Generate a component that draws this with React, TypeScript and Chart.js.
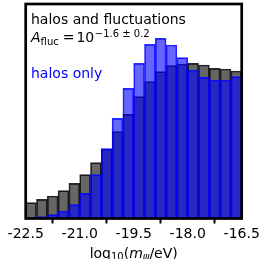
import React, { useEffect, useRef } from "react";
import { Chart, registerables } from "chart.js";

Chart.register(...registerables);

// Bin centres of log10(m_psi/eV), 20 bins of width 0.3 from -22.5 to -16.5
const binCenters = [
  -22.35, -22.05, -21.75, -21.45, -21.15, -20.85, -20.55, -20.25, -19.95, -19.65,
  -19.35, -19.05, -18.75, -18.45, -18.15, -17.85, -17.55, -17.25, -16.95, -16.65,
];
const halosAndFluctuations = [
  15.8, 19.2, 22.5, 27.8, 35.2, 43.8, 55.8, 69.5, 86.8, 104.2,
  121.8, 136.8, 146.8, 152.8, 154.5, 155.2, 153.5, 150.2, 149.5, 147.5,
];
const halosOnly = [
  1.0, 1.8, 3.8, 7.5, 13.8, 25.2, 43.8, 69.8, 100.2, 130.2,
  155.2, 174.2, 180.2, 173.5, 160.8, 148.5, 141.2, 138.5, 138.5, 141.8,
];
const xTicks = [-22.5, -21.0, -19.5, -18.0, -16.5];
const xMin = -22.5;
const xMax = -16.5;
const yMax = 214.5;

const FONT = "'DejaVu Sans', sans-serif";

const textPlugin = {
  id: "textPlugin",
  afterDraw(chart: any) {
    const ctx = chart.ctx as CanvasRenderingContext2D;
    const a = chart.chartArea;
    ctx.save();
    // frame
    ctx.strokeStyle = "#000";
    ctx.lineWidth = 2.7;
    ctx.strokeRect(a.left, a.top, a.right - a.left, a.bottom - a.top);

    ctx.textBaseline = "alphabetic";
    ctx.textAlign = "left";
    // legend-like annotations
    ctx.fillStyle = "#000";
    ctx.font = `14px ${FONT}`;
    ctx.fillText("halos and fluctuations", 31, 24.3);

    let x = 31;
    ctx.font = `italic 14px ${FONT}`;
    ctx.fillText("A", x, 42.3);
    x += ctx.measureText("A").width;
    ctx.font = `10px ${FONT}`;
    ctx.fillText("fluc", x, 45);
    x += ctx.measureText("fluc").width + 4;
    ctx.font = `14px ${FONT}`;
    ctx.fillText("=", x, 42.3);
    x += ctx.measureText("=").width + 2;
    ctx.fillText("10", x, 42.3);
    x += ctx.measureText("10").width + 0.5;
    ctx.font = `10px ${FONT}`;
    ctx.fillText("\u22121.6 \u00b1 0.2", x, 37.3);

    ctx.fillStyle = "#0000ff";
    ctx.font = `14px ${FONT}`;
    ctx.fillText("halos only", 31, 78.3);

    // x-axis title: log10(m_psi/eV)
    ctx.fillStyle = "#000";
    const parts: [string, string, number][] = [
      ["log", `14px ${FONT}`, 0],
      ["10", `10px ${FONT}`, 2.5],
      ["(", `14px ${FONT}`, 0],
      ["m", `italic 14px ${FONT}`, 0],
      ["\u03c8", `italic 10px ${FONT}`, 2.5],
      ["/eV)", `14px ${FONT}`, 0],
    ];
    let total = 0;
    for (const [t, f] of parts) {
      ctx.font = f;
      total += ctx.measureText(t).width;
    }
    let tx = (a.left + a.right) / 2 - total / 2;
    const base = 257.5;
    for (const [t, f, dy] of parts) {
      ctx.font = f;
      ctx.fillText(t, tx, base + dy);
      tx += ctx.measureText(t).width;
    }
    ctx.restore();
  },
};

export default function App() {
  const ref = useRef<HTMLCanvasElement | null>(null);
  useEffect(() => {
    if (!ref.current) return;
    const chart = new Chart(ref.current, {
      type: "bar",
      data: {
        labels: binCenters.map((v) => v.toFixed(2)),
        datasets: [
          {
            label: "halos only",
            data: halosOnly,
            backgroundColor: "rgba(0,0,255,0.6)",
            borderColor: "rgba(0,0,255,0.84)",
            borderWidth: 1,
            xAxisID: "xc",
            order: 1,
          },
          {
            label: "halos and fluctuations",
            data: halosAndFluctuations,
            backgroundColor: "rgba(0,0,0,0.6)",
            borderColor: "rgba(0,0,0,0.84)",
            borderWidth: 1,
            xAxisID: "xc",
            order: 2,
          },
        ],
      },
      options: {
        responsive: false,
        animation: false,
        events: [],
        grouped: false,
        categoryPercentage: 1.0,
        barPercentage: 1.0,
        layout: { padding: { left: 25.7, right: 27.3, top: 4, bottom: 0 } },
        plugins: {
          legend: { display: false },
          tooltip: { enabled: false },
          title: { display: false },
        },
        scales: {
          xc: {
            type: "category",
            display: false,
            offset: true,
          },
          x: {
            type: "linear",
            position: "bottom",
            min: xMin,
            max: xMax,
            offset: false,
            afterBuildTicks: (scale: any) => {
              scale.ticks = xTicks.map((v) => ({ value: v }));
            },
            afterFit: (scale: any) => {
              scale.height = 40.5;
            },
            border: { display: false },
            grid: {
              drawOnChartArea: false,
              drawTicks: true,
              tickLength: 5,
              tickWidth: 2,
              tickColor: "#000",
            },
            ticks: {
              color: "#000",
              padding: 2,
              maxRotation: 0,
              autoSkip: false,
              font: { family: FONT, size: 14 },
              callback: (v: any) => Number(v).toFixed(1),
            },
          },
          y: {
            display: false,
            min: 0,
            max: yMax,
          },
        },
      } as any,
      plugins: [textPlugin],
    });
    return () => chart.destroy();
  }, []);
  return (
    <div style={{ position: "fixed", left: 0, top: 0, width: 269, height: 259, background: "#fff" }}>
      <canvas ref={ref} width={269} height={259} style={{ display: "block" }} />
    </div>
  );
}
